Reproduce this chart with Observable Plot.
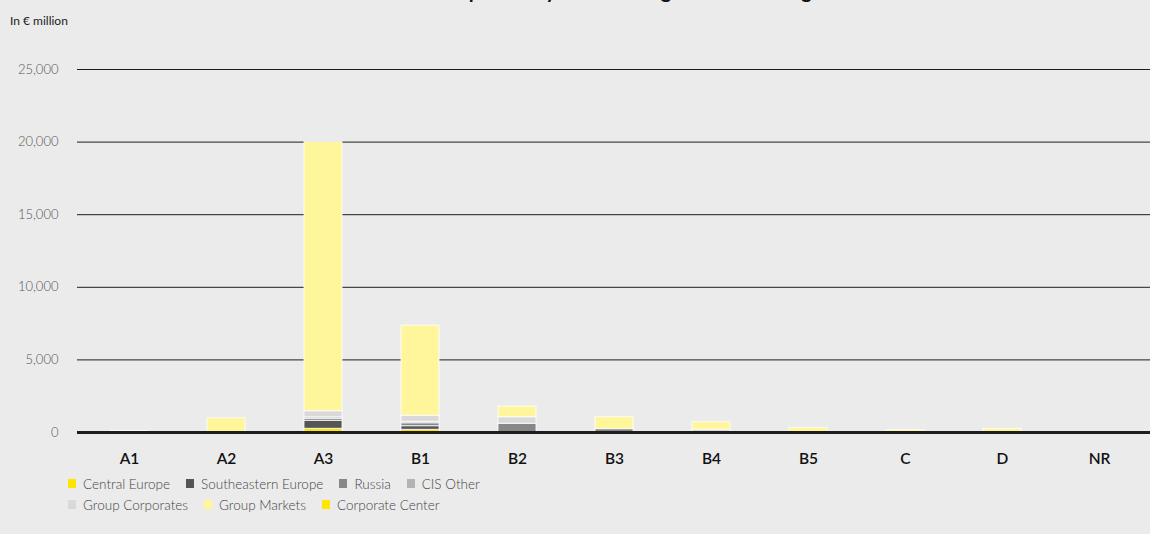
<!DOCTYPE html>
<html>
<head>
<meta charset="utf-8">
<script src="https://cdn.jsdelivr.net/npm/d3@7"></script>
<script src="https://cdn.jsdelivr.net/npm/@observablehq/plot@0.6"></script>
<style>
  html, body { margin: 0; padding: 0; background: #ebebeb; overflow: hidden; }
  body { width: 1150px; height: 534px; position: relative; font-family: Lato, "Open Sans", sans-serif; }
  #title { position: absolute; left: 388px; top: -20px; font-size: 20px; line-height: 20px; font-weight: 700; color: #111; white-space: nowrap; }
  #unit { position: absolute; left: 10px; top: 13px; font-size: 12px; color: #222; }
  #chart { position: absolute; left: 0; top: 0; }
  #legend { position: absolute; left: 68px; top: 473px; font-size: 13.5px; font-weight: 300; color: #444; }
  .row { display: flex; height: 21px; align-items: center; }
  .item { display: flex; align-items: center; margin-right: 16px; }
  .sw { width: 8px; height: 9px; margin-right: 7px; }
</style>
</head>
<body>
<div id="title">Credit exposure by business segment and rating</div>
<div id="unit">In € million</div>
<div id="chart"></div>
<div id="legend"></div>
<script>
// Rating classes on the x axis
const categories = ["A1", "A2", "A3", "B1", "B2", "B3", "B4", "B5", "C", "D", "NR"];

// Business segments, stacked bottom to top
const series = ["Central Europe", "Southeastern Europe", "Russia", "CIS Other", "Group Corporates", "Group Markets", "Corporate Center"];
const colors = ["#ffe600", "#555555", "#878787", "#b3b3b3", "#d9d9d9", "#fff59a", "#ffe600"];

// Exposure per segment and rating class, in € million
const centralEurope      = [0,   0,   255,   185,  0,   0,   0,   0,   0,   0,   0];
const southeasternEurope = [0,   0,   550,   250,  0,   0,   0,   0,   0,   0,   0];
const russia             = [0,   0,   140,   200,  600, 230, 0,   0,   0,   0,   0];
const cisOther           = [0,   0,   100,   100,  0,   0,   0,   0,   0,   0,   0];
const groupCorporates    = [10,  20,  420,   420,  450, 0,   200, 20,  0,   0,   0];
const groupMarkets       = [90,  960, 18535, 6200, 740, 820, 510, 300, 150, 250, 20];
const corporateCenter    = [0,   0,   0,     0,    0,   0,   0,   0,   0,   0,   0];

const yTicks = [0, 5000, 10000, 15000, 20000, 25000];

const seriesValues = [centralEurope, southeasternEurope, russia, cisOther, groupCorporates, groupMarkets, corporateCenter];
const data = categories.flatMap((c, i) =>
  series.map((s, j) => ({category: c, segment: s, value: seriesValues[j][i]}))
).filter(d => d.value > 0);

const chart = Plot.plot({
  width: 1150,
  height: 470,
  marginLeft: 77,
  marginRight: 0,
  marginTop: 69,
  marginBottom: 38,
  style: {background: "transparent", fontFamily: "Lato, 'Open Sans', sans-serif"},
  x: {domain: categories, paddingInner: 0.61, paddingOuter: 0.285},
  y: {domain: [0, 25000]},
  color: {domain: series, range: colors},
  marks: [
    Plot.ruleY(yTicks.filter(t => t > 0), {stroke: "#1e1e1e", strokeWidth: 1}),
    Plot.barY(data, {x: "category", y: "value", fill: "segment", stroke: "#ffffff", strokeWidth: 1, strokeOpacity: 0.8}),
    Plot.ruleY([0], {stroke: "#1e1e1e", strokeWidth: 3}),
    Plot.axisY({ticks: yTicks, tickSize: 0, tickPadding: 19, tickFormat: d3.format(","), fontSize: 13, fontWeight: 300, fill: "#555", label: null}),
    Plot.axisX({tickSize: 0, tickPadding: 20, fontSize: 15.5, fontWeight: 600, fill: "#111", label: null})
  ]
});
document.getElementById("chart").appendChild(chart);

// Legend in two rows
const legend = document.getElementById("legend");
[series.slice(0, 4), series.slice(4)].forEach(rowItems => {
  const row = document.createElement("div");
  row.className = "row";
  rowItems.forEach(name => {
    const item = document.createElement("div");
    item.className = "item";
    const sw = document.createElement("span");
    sw.className = "sw";
    sw.style.background = colors[series.indexOf(name)];
    const label = document.createElement("span");
    label.textContent = name;
    item.appendChild(sw);
    item.appendChild(label);
    row.appendChild(item);
  });
  legend.appendChild(row);
});
</script>
</body>
</html>
